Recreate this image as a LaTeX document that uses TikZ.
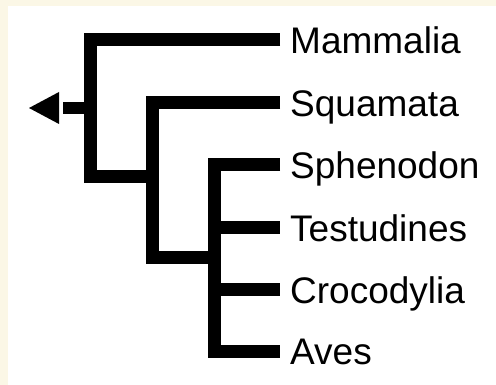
\documentclass[tikz,border=0pt]{standalone}
\usepackage{fontspec}
\setmainfont{Liberation Sans}
\definecolor{cream}{HTML}{FBF7E6}
\begin{document}
\begin{tikzpicture}[x=1pt,y=-1pt,
  branch/.style={line width=13pt,line join=miter,line cap=butt,black},
  leaf/.style={anchor=base west,inner sep=0pt,font=\fontsize{37}{40}\selectfont}]
\useasboundingbox (0,0) rectangle (496,385);
\fill[cream] (0,0) rectangle (496,385);
\fill[white] (8,6) rectangle (496,385);
% leaves
\node[leaf] (mam) at (290,54) {Mammalia};
\node[leaf] (squ) at (290,117) {Squamata};
\node[leaf] (sph) at (290,179) {Sphenodon};
\node[leaf] (tes) at (290,242) {Testudines};
\node[leaf] (cro) at (290,304) {Crocodylia};
\node[leaf] (ave) at (290,364) {Aves};
% internal nodes
\coordinate (root) at (90,108);
\coordinate (n1) at (152,177);
\coordinate (n2) at (214,258);
% tips
\coordinate (tmam) at (280,40);
\coordinate (tsqu) at (280,103);
\coordinate (tsph) at (280,165);
\coordinate (ttes) at (280,228);
\coordinate (tcro) at (280,290);
\coordinate (tave) at (280,351);
\draw[branch] (tmam) -| (root |- n1) -- (n1);
\draw[branch] (tsqu) -| (n1 |- n2) -- (n2);
\draw[branch] (tsph) -| (n2 |- tave) -- (tave);
\draw[branch] (n2 |- ttes) -- (ttes);
\draw[branch] (n2 |- tcro) -- (tcro);
% root arrow
\coordinate (stub) at (63,108);
\draw[line width=12pt] (root) -- (stub);
\fill[black] (29,108) -- (59,92) -- (59,124) -- cycle;
\end{tikzpicture}
\end{document}
